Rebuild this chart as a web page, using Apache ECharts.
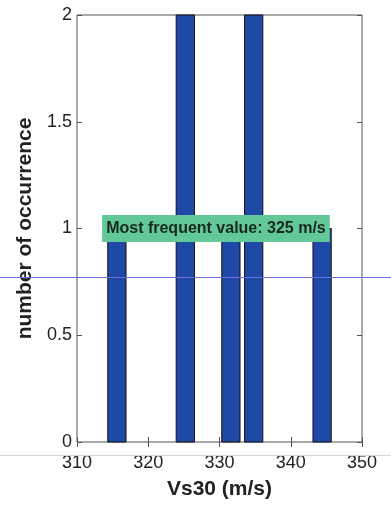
<!DOCTYPE html>
<html>
<head>
<meta charset="utf-8">
<script src="https://cdn.jsdelivr.net/npm/echarts@6/dist/echarts.min.js"></script>
<style>
  html, body { margin: 0; padding: 0; background: #fff; }
  #chart { width: 391px; height: 506px; }
</style>
</head>
<body>
<div id="chart"></div>
<script>
// Histogram of Vs30 values: bin centres and counts
const binCenters = [315.6, 325.2, 331.6, 334.8, 344.4];
const binCounts = [1, 2, 1, 2, 1];
const binWidth = 2.56;           // drawn bar width in m/s
const xTicks = [310, 320, 330, 340, 350];
const yTicks = [0, 0.5, 1, 1.5, 2];
const noteText = 'Most frequent value: 325 m/s';
const notePos = [329.5, 1];

const font = 'Liberation Sans, Arial, Helvetica, sans-serif';
const chart = echarts.init(document.getElementById('chart'));

chart.setOption({
  animation: false,
  backgroundColor: '#ffffff',
  grid: { left: 77, right: 29, top: 15, bottom: 64, show: true, borderColor: '#555', borderWidth: 1, backgroundColor: '#fff' },
  xAxis: [{
    type: 'value', min: xTicks[0], max: xTicks[xTicks.length - 1], interval: 10,
    name: 'Vs30 (m/s)', nameLocation: 'middle', nameGap: 37,
    nameTextStyle: { fontFamily: font, fontSize: 21, fontWeight: 'bold', color: '#222' },
    axisLine: { show: false },
    axisTick: { inside: true, length: 5, lineStyle: { color: '#555' } },
    axisLabel: { fontFamily: font, fontSize: 18, color: '#222', margin: 12 },
    splitLine: { show: false }
  }, {
    type: 'value', position: 'top', min: xTicks[0], max: xTicks[xTicks.length - 1], interval: 10,
    axisLine: { show: false }, axisLabel: { show: false },
    axisTick: { inside: true, length: 5, lineStyle: { color: '#555' } },
    splitLine: { show: false }
  }],
  yAxis: [{
    type: 'value', min: yTicks[0], max: yTicks[yTicks.length - 1], interval: 0.5,
    name: 'number of occurrence', nameLocation: 'middle', nameGap: 39,
    nameTextStyle: { fontFamily: font, fontSize: 21, fontWeight: 'bold', color: '#222' },
    axisLine: { show: false },
    axisTick: { inside: true, length: 5, lineStyle: { color: '#555' } },
    axisLabel: { fontFamily: font, fontSize: 18, color: '#222', margin: 5 },
    splitLine: { show: false }
  }, {
    type: 'value', position: 'right', min: yTicks[0], max: yTicks[yTicks.length - 1], interval: 0.5,
    axisLine: { show: false }, axisLabel: { show: false },
    axisTick: { inside: true, length: 5, lineStyle: { color: '#555' } },
    splitLine: { show: false }
  }],
  series: [{
    type: 'custom',
    data: binCenters.map((c, i) => [c, binCounts[i]]),
    renderItem: function (params, api) {
      const c = api.value(0), n = api.value(1);
      const p0 = api.coord([c - binWidth / 2, n]);
      const p1 = api.coord([c + binWidth / 2, 0]);
      return {
        type: 'rect',
        shape: { x: p0[0], y: p0[1], width: p1[0] - p0[0], height: p1[1] - p0[1] },
        style: { fill: '#1f49a6', stroke: '#111', lineWidth: 1 }
      };
    },
    markPoint: {
      symbol: 'rect', symbolSize: 0,
      data: [{ coord: notePos, value: noteText }],
      label: {
        show: true, position: 'inside', formatter: noteText,
        fontFamily: font, fontSize: 16, fontWeight: 'bold', color: '#17291f',
        backgroundColor: '#62c898', padding: [6, 4, 5, 4]
      }
    }
  }],
  graphic: [
    { type: 'line', silent: true, z: 100, shape: { x1: 0, y1: 277.5, x2: 391, y2: 277.5 }, style: { stroke: '#6e6ee0', lineWidth: 1 } },
    { type: 'line', silent: true, z: 100, shape: { x1: 0, y1: 455.5, x2: 391, y2: 455.5 }, style: { stroke: '#ddd6d6', lineWidth: 1 } }
  ]
});
</script>
</body>
</html>
